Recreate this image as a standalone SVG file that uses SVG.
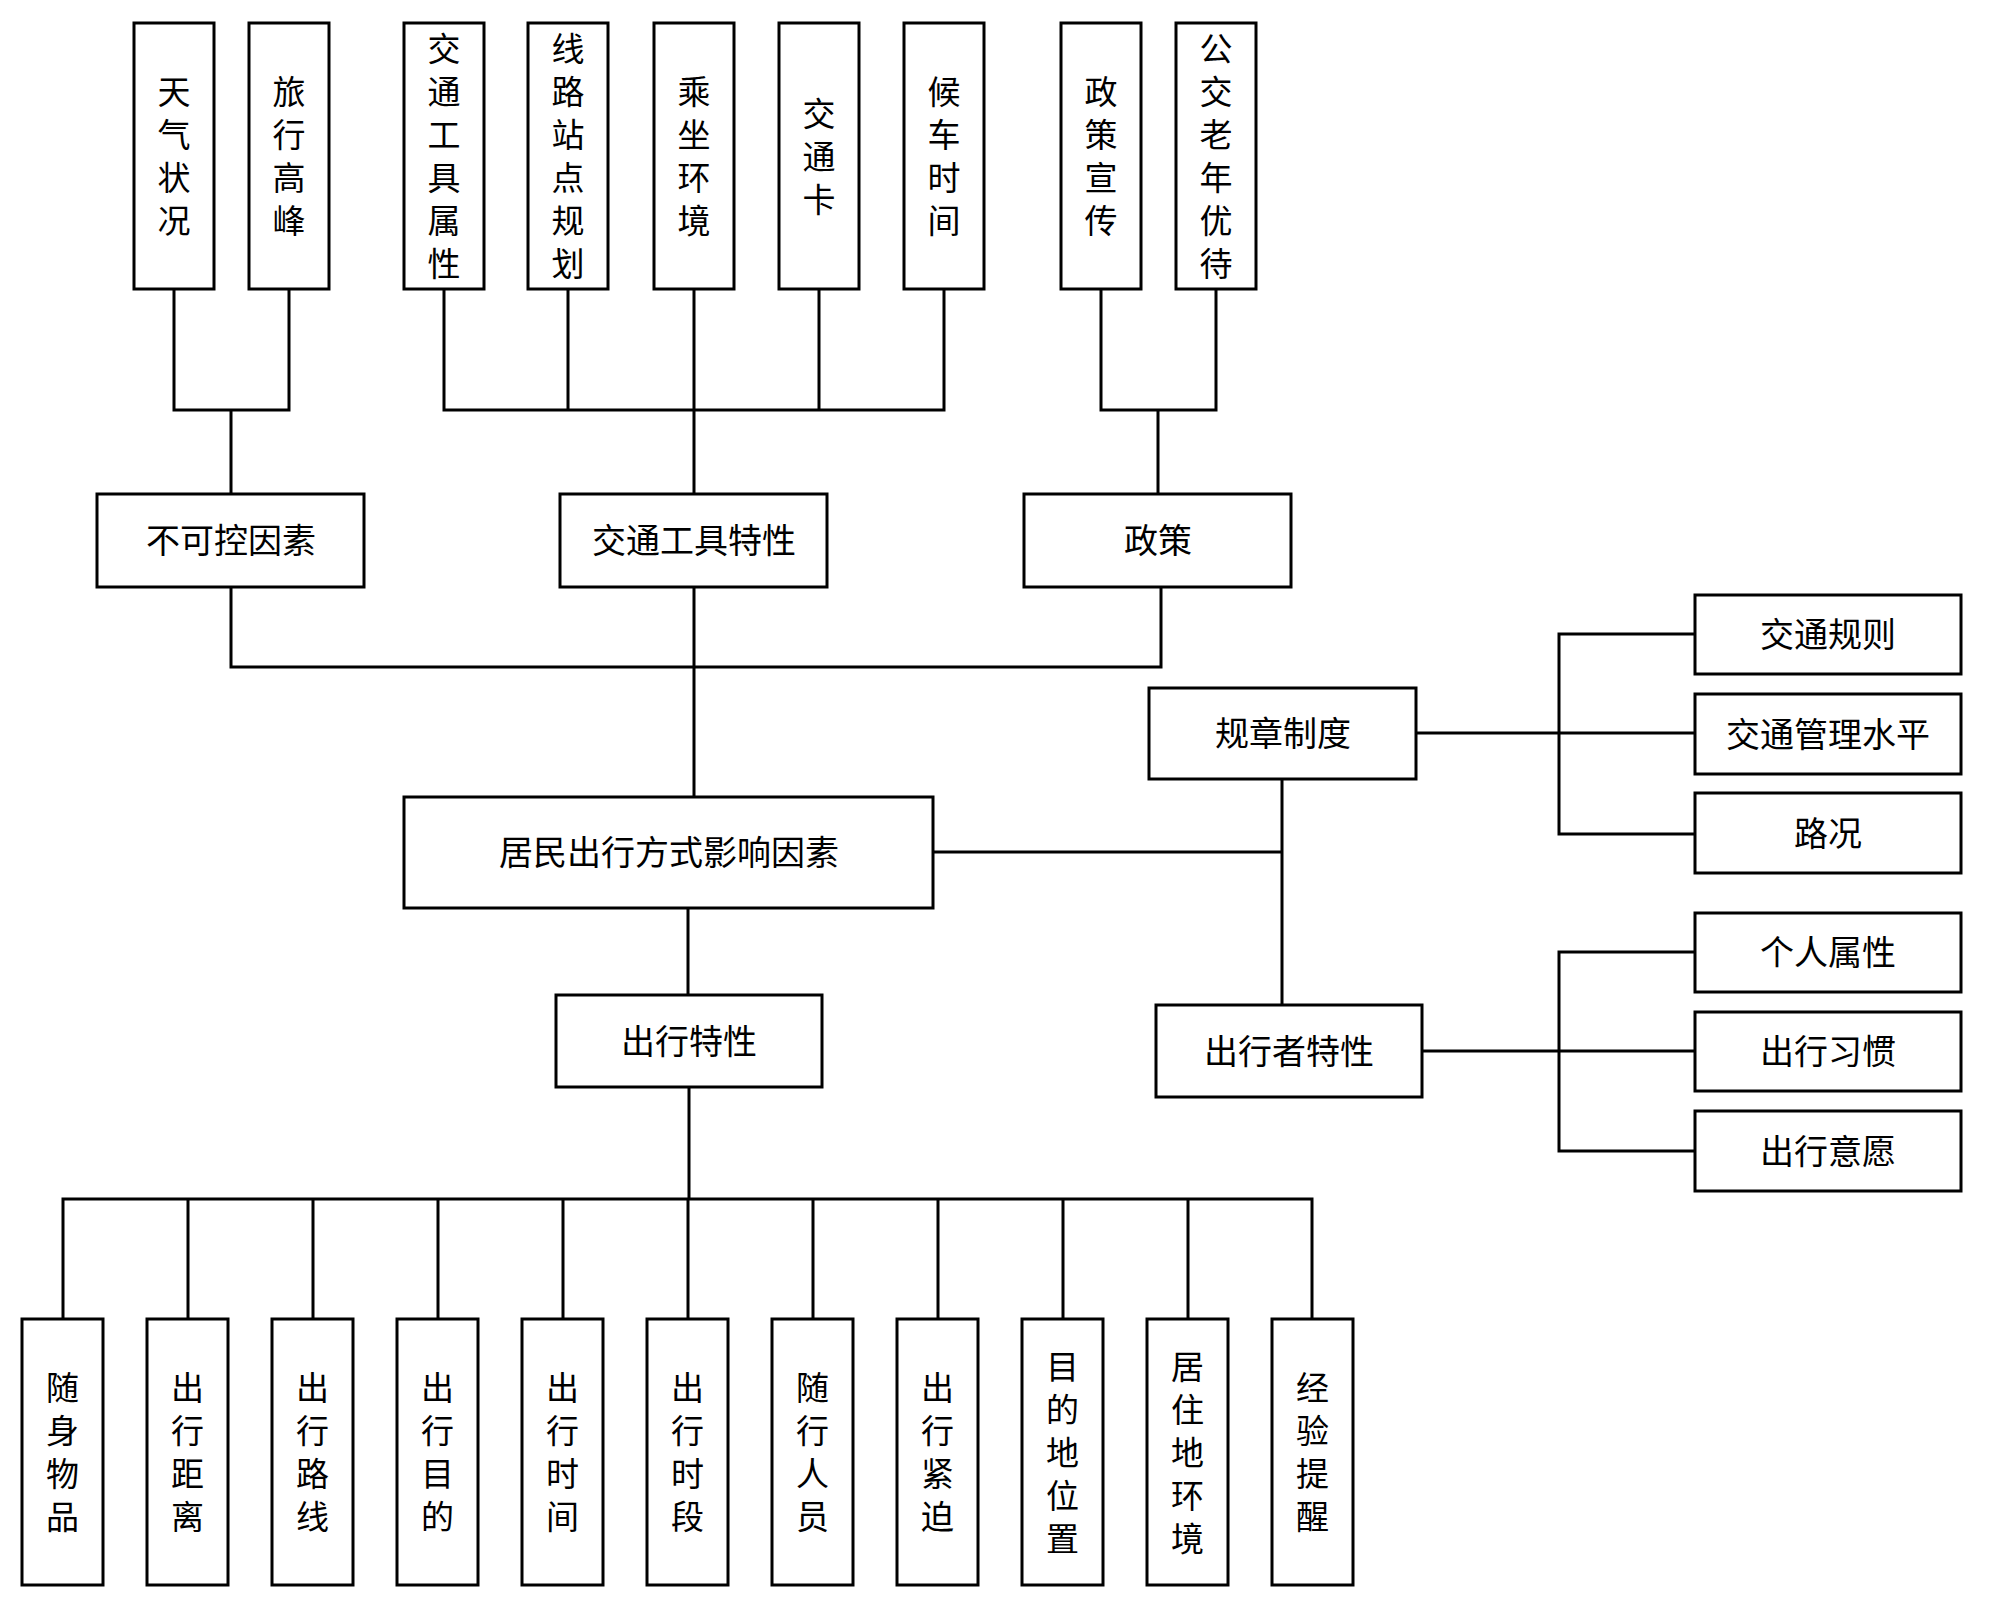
<svg xmlns="http://www.w3.org/2000/svg" width="2000" height="1608" viewBox="0 0 2000 1608">
<style>
.box{fill:#fff;stroke:#000;stroke-width:3}
.c{fill:none;stroke:#000;stroke-width:3;stroke-linecap:square}
text{font-family:"Noto Sans CJK SC","Noto Sans",sans-serif;fill:#000;text-anchor:middle}
.h{font-size:34px}
.v{font-size:33px;writing-mode:vertical-rl;letter-spacing:10px}
</style>
<rect width="2000" height="1608" fill="#fff"/>
<g id="connectors">
<path class="c" d="M174,289V410H289V289M231,410V494"/>
<path class="c" d="M444,289V410H944V289M568,289V410M694,289V494M819,289V410"/>
<path class="c" d="M1101,289V410H1216V289M1158,410V494"/>
<path class="c" d="M231,587V667H1161V587M694,587V797"/>
<path class="c" d="M933,852H1282M1282,779V1005"/>
<path class="c" d="M1416,733H1695M1695,634H1559V834H1695"/>
<path class="c" d="M1422,1051H1695M1695,952H1559V1151H1695"/>
<path class="c" d="M688,908V995M689,1087V1199M63,1319V1199H1312V1319M188,1199V1319M313,1199V1319M438,1199V1319M563,1199V1319M688,1199V1319M813,1199V1319M938,1199V1319M1063,1199V1319M1188,1199V1319"/>
</g>
<g id="n-tianqi"><rect class="box" x="134" y="23" width="80" height="266"/><text class="v" x="174" y="161">天气状况</text></g>
<g id="n-lvxing"><rect class="box" x="249" y="23" width="80" height="266"/><text class="v" x="289" y="161">旅行高峰</text></g>
<g id="n-gongjushuxing"><rect class="box" x="404" y="23" width="80" height="266"/><text class="v" x="444" y="161">交通工具属性</text></g>
<g id="n-xianlu"><rect class="box" x="528" y="23" width="80" height="266"/><text class="v" x="568" y="161">线路站点规划</text></g>
<g id="n-chengzuo"><rect class="box" x="654" y="23" width="80" height="266"/><text class="v" x="694" y="161">乘坐环境</text></g>
<g id="n-jiaotongka"><rect class="box" x="779" y="23" width="80" height="266"/><text class="v" x="819" y="161">交通卡</text></g>
<g id="n-houche"><rect class="box" x="904" y="23" width="80" height="266"/><text class="v" x="944" y="161">候车时间</text></g>
<g id="n-zhengcexuanchuan"><rect class="box" x="1061" y="23" width="80" height="266"/><text class="v" x="1101" y="161">政策宣传</text></g>
<g id="n-laonian"><rect class="box" x="1176" y="23" width="80" height="266"/><text class="v" x="1216" y="161">公交老年优待</text></g>
<g id="n-bukekong"><rect class="box" x="97" y="494" width="267" height="93"/><text class="h" x="231" y="553">不可控因素</text></g>
<g id="n-gongjutexing"><rect class="box" x="560" y="494" width="267" height="93"/><text class="h" x="694" y="553">交通工具特性</text></g>
<g id="n-zhengce"><rect class="box" x="1024" y="494" width="267" height="93"/><text class="h" x="1158" y="553">政策</text></g>
<g id="n-root"><rect class="box" x="404" y="797" width="529" height="111"/><text class="h" x="669" y="865">居民出行方式影响因素</text></g>
<g id="n-guizhang"><rect class="box" x="1149" y="688" width="267" height="91"/><text class="h" x="1283" y="746">规章制度</text></g>
<g id="n-chuxingzhe"><rect class="box" x="1156" y="1005" width="266" height="92"/><text class="h" x="1289" y="1064">出行者特性</text></g>
<g id="n-chuxingtexing"><rect class="box" x="556" y="995" width="266" height="92"/><text class="h" x="689" y="1054">出行特性</text></g>
<g id="n-guize"><rect class="box" x="1695" y="595" width="266" height="79"/><text class="h" x="1828" y="647">交通规则</text></g>
<g id="n-guanli"><rect class="box" x="1695" y="694" width="266" height="80"/><text class="h" x="1828" y="747">交通管理水平</text></g>
<g id="n-lukuang"><rect class="box" x="1695" y="793" width="266" height="80"/><text class="h" x="1828" y="846">路况</text></g>
<g id="n-geren"><rect class="box" x="1695" y="913" width="266" height="79"/><text class="h" x="1828" y="965">个人属性</text></g>
<g id="n-xiguan"><rect class="box" x="1695" y="1012" width="266" height="79"/><text class="h" x="1828" y="1064">出行习惯</text></g>
<g id="n-yiyuan"><rect class="box" x="1695" y="1111" width="266" height="80"/><text class="h" x="1828" y="1164">出行意愿</text></g>
<g id="n-suishen"><rect class="box" x="22" y="1319" width="81" height="266"/><text class="v" x="62.5" y="1457">随身物品</text></g>
<g id="n-juli"><rect class="box" x="147" y="1319" width="81" height="266"/><text class="v" x="187.5" y="1457">出行距离</text></g>
<g id="n-luxian"><rect class="box" x="272" y="1319" width="81" height="266"/><text class="v" x="312.5" y="1457">出行路线</text></g>
<g id="n-mudi"><rect class="box" x="397" y="1319" width="81" height="266"/><text class="v" x="437.5" y="1457">出行目的</text></g>
<g id="n-shijian"><rect class="box" x="522" y="1319" width="81" height="266"/><text class="v" x="562.5" y="1457">出行时间</text></g>
<g id="n-shiduan"><rect class="box" x="647" y="1319" width="81" height="266"/><text class="v" x="687.5" y="1457">出行时段</text></g>
<g id="n-suixing"><rect class="box" x="772" y="1319" width="81" height="266"/><text class="v" x="812.5" y="1457">随行人员</text></g>
<g id="n-jinpo"><rect class="box" x="897" y="1319" width="81" height="266"/><text class="v" x="937.5" y="1457">出行紧迫</text></g>
<g id="n-mudidi"><rect class="box" x="1022" y="1319" width="81" height="266"/><text class="v" x="1062.5" y="1457">目的地位置</text></g>
<g id="n-juzhudi"><rect class="box" x="1147" y="1319" width="81" height="266"/><text class="v" x="1187.5" y="1457">居住地环境</text></g>
<g id="n-jingyan"><rect class="box" x="1272" y="1319" width="81" height="266"/><text class="v" x="1312.5" y="1457">经验提醒</text></g>
</svg>
